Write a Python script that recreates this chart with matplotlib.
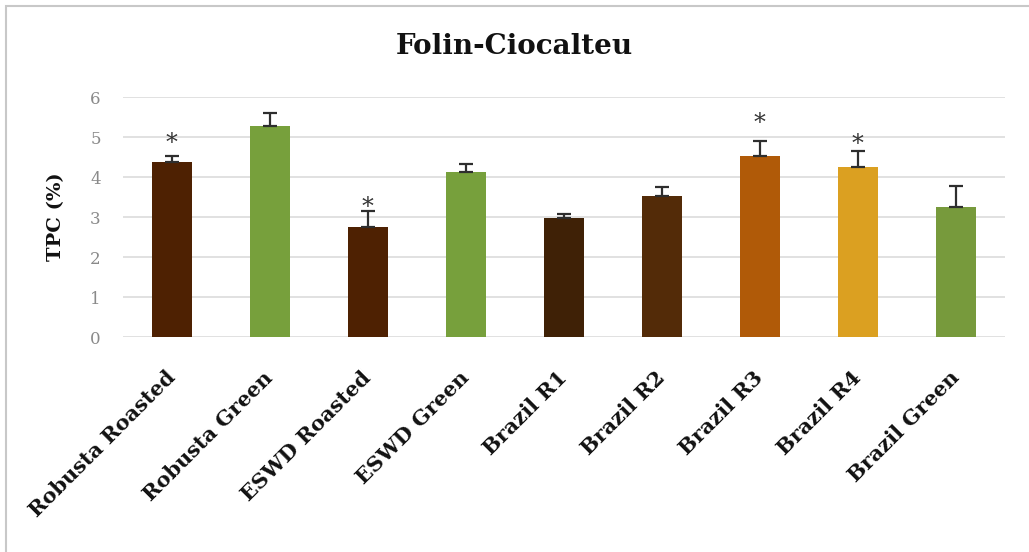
import matplotlib
matplotlib.use("Agg")
import matplotlib.pyplot as plt
from matplotlib.patches import Rectangle
from matplotlib.transforms import ScaledTranslation

# Total phenolic content by sample
categories = ["Robusta Roasted", "Robusta Green", "ESWD Roasted", "ESWD Green",
              "Brazil R1", "Brazil R2", "Brazil R3", "Brazil R4", "Brazil Green"]
tpc = [4.38, 5.28, 2.74, 4.13, 2.98, 3.52, 4.53, 4.24, 3.26]
tpc_err = [0.15, 0.31, 0.42, 0.19, 0.10, 0.22, 0.38, 0.42, 0.52]
# significance markers (None = not significant), placed at these heights
star_y = [4.9, None, 3.3, None, None, None, 5.4, 4.88, None]
bar_colors = ["#4e2102", "#77a03c", "#4e2102", "#77a03c", "#3f2106",
              "#532b08", "#b05a08", "#dba021", "#779a3c"]
y_ticks = [0, 1, 2, 3, 4, 5, 6]

serif = ["DejaVu Serif"]

fig = plt.figure(figsize=(10.29, 5.52), dpi=100)
fig.patch.set_facecolor("white")

# light frame around the chart area
fig.add_artist(Rectangle((6 / 1029, -0.1), 1.2, (552 - 6) / 552 + 0.1,
                         transform=fig.transFigure, fill=False,
                         edgecolor="#c8c8c8", linewidth=1.5))

ax = fig.add_axes([123 / 1029, 215 / 552, (1005 - 123) / 1029, 240 / 552])
x = list(range(len(categories)))
ax.bar(x, tpc, width=0.4, color=bar_colors, zorder=3)
ax.errorbar(x, tpc, yerr=[[0] * len(tpc), tpc_err], fmt="none",
            ecolor="#2e2e2e", elinewidth=1.6, capsize=5, capthick=1.6, zorder=4)

for xi, sy in zip(x, star_y):
    if sy is not None:
        ax.text(xi, sy - 0.35, "*", ha="center", va="bottom",
                fontsize=17, color="#333333", family=serif, zorder=5)

ax.set_xlim(-0.5, len(categories) - 0.5)
ax.set_ylim(0, 6)
ax.set_yticks(y_ticks)
ax.set_yticklabels([str(t) for t in y_ticks], family=serif, fontsize=12,
                   color="#8a8a8a")
ax.yaxis.grid(True, color="#dcdcdc", linewidth=1.2, zorder=0)
ax.set_axisbelow(True)
for sp in ax.spines.values():
    sp.set_visible(False)
ax.tick_params(axis="both", length=0)
ax.tick_params(axis="y", pad=16)

ax.set_xticks(x)
ax.set_xticklabels(categories, rotation=45, ha="right", va="top",
                   rotation_mode="anchor", family=serif, fontweight="bold",
                   fontsize=15, color="#111111")
ax.tick_params(axis="x", pad=22)
shift = ScaledTranslation(-7 / 100, 0, fig.dpi_scale_trans)
for lbl in ax.get_xticklabels():
    lbl.set_transform(lbl.get_transform() + shift)

ax.set_ylabel("TPC (%)", family=serif, fontweight="bold", fontsize=14,
              color="#111111", labelpad=18)

fig.text(0.5, 1 - 47 / 552, "Folin-Ciocalteu", ha="center", va="center",
         family=serif, fontweight="bold", fontsize=20, color="#111111")

fig.savefig("out.png", dpi=100, facecolor="white")
